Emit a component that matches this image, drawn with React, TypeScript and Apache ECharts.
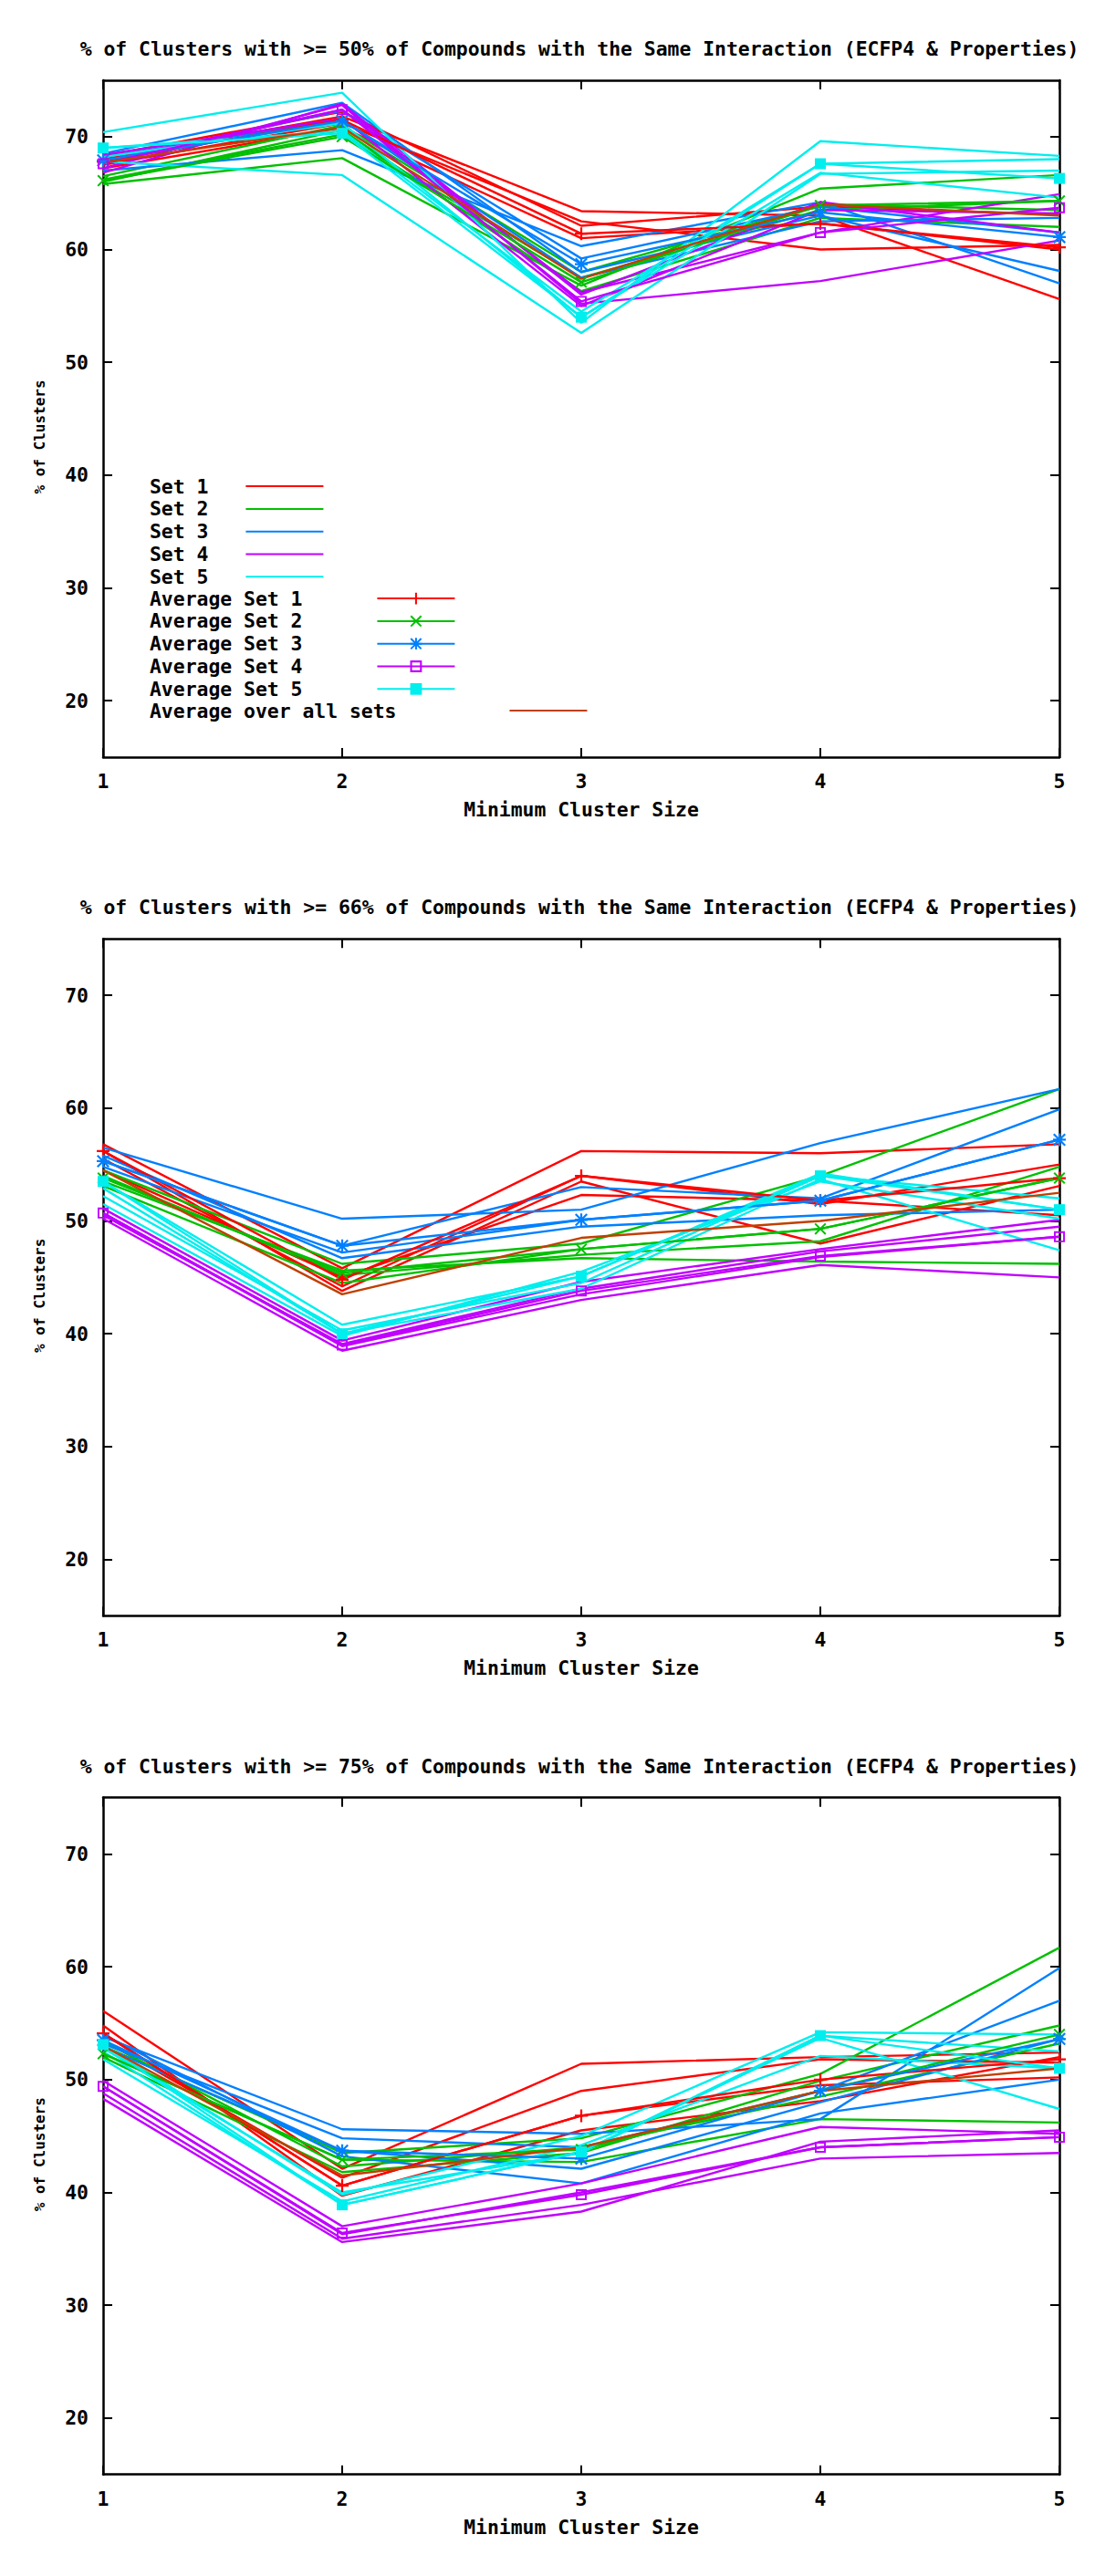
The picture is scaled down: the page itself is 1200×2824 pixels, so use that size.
import React, { useEffect, useRef } from "react";
import * as echarts from "echarts";

// ---------- data ----------
const xValues = [1, 2, 3, 4, 5];
const xTickLabels = ["1", "2", "3", "4", "5"];
const yTickValues = [20, 30, 40, 50, 60, 70];

const panelTitles = [
  "% of Clusters with >= 50% of Compounds with the Same Interaction (ECFP4 & Properties)",
  "% of Clusters with >= 66% of Compounds with the Same Interaction (ECFP4 & Properties)",
  "% of Clusters with >= 75% of Compounds with the Same Interaction (ECFP4 & Properties)",
];
const xAxisTitle = "Minimum Cluster Size";
const yAxisTitle = "% of Clusters";

const setNames = ["Set 1", "Set 2", "Set 3", "Set 4", "Set 5"];
const avgNames = ["Average Set 1", "Average Set 2", "Average Set 3", "Average Set 4", "Average Set 5"];
const overallName = "Average over all sets";

// ---- panel 1 : >= 50% ----
const p50Set1 = [
  [68.0, 71.8, 63.4, 63.0, 55.6],
  [67.5, 71.2, 62.5, 60.0, 60.4],
  [68.3, 72.2, 62.1, 63.8, 63.1],
  [67.2, 70.8, 61.0, 62.3, 60.0],
];
const p50Set2 = [
  [65.8, 68.1, 56.8, 65.4, 66.6],
  [66.2, 70.2, 57.5, 63.5, 64.3],
  [66.0, 70.6, 56.3, 62.8, 62.0],
  [66.5, 71.0, 58.0, 64.0, 63.5],
];
const p50Set3 = [
  [67.0, 68.8, 60.3, 64.2, 57.0],
  [68.5, 73.0, 58.0, 63.0, 58.1],
  [67.8, 72.3, 59.2, 63.8, 61.5],
  [68.2, 71.5, 57.5, 62.5, 62.8],
];
const p50Set4 = [
  [67.2, 72.8, 55.2, 57.2, 60.8],
  [67.8, 72.4, 56.2, 61.5, 64.9],
  [68.4, 71.6, 55.0, 63.5, 63.2],
  [66.8, 72.9, 56.0, 64.2, 61.5],
];
const p50Set5 = [
  [70.4, 73.9, 53.5, 69.6, 68.3],
  [67.8, 66.6, 52.6, 66.7, 67.0],
  [69.0, 70.5, 54.5, 67.6, 68.0],
  [68.2, 71.2, 54.0, 66.8, 64.6],
];
const p50Averages = [
  [67.8, 71.5, 61.4, 62.3, 60.2],
  [66.1, 70.0, 57.1, 63.9, 64.3],
  [67.9, 71.4, 58.7, 63.3, 61.1],
  [67.6, 72.4, 55.4, 61.5, 63.7],
  [69.0, 70.3, 54.0, 67.6, 66.3],
];
const p50Overall = [67.7, 70.8, 57.4, 64.0, 63.0];

// ---- panel 2 : >= 66% ----
const p66Set1 = [
  [56.8, 45.8, 56.2, 56.0, 56.8],
  [55.5, 44.2, 54.0, 51.5, 55.0],
  [56.2, 43.8, 53.5, 48.0, 53.1],
  [54.5, 45.0, 52.3, 51.8, 50.5],
];
const p66Set2 = [
  [54.5, 46.2, 48.0, 54.0, 61.7],
  [53.5, 45.6, 46.7, 46.4, 46.2],
  [53.1, 44.5, 47.5, 49.3, 53.8],
  [54.0, 45.2, 47.0, 48.2, 54.8],
];
const p66Set3 = [
  [56.5, 50.2, 51.0, 56.9, 61.7],
  [55.3, 47.8, 53.0, 52.0, 59.9],
  [54.8, 47.2, 50.1, 51.8, 57.2],
  [55.8, 46.7, 49.5, 50.5, 51.0],
];
const p66Set4 = [
  [51.1, 39.4, 44.6, 47.5, 50.1],
  [50.7, 38.9, 43.5, 46.8, 48.6],
  [50.2, 38.5, 43.0, 46.1, 45.0],
  [50.5, 39.1, 44.0, 47.3, 49.5],
];
const p66Set5 = [
  [53.5, 40.8, 45.1, 54.2, 51.0],
  [52.9, 40.0, 44.0, 53.7, 47.4],
  [52.2, 40.3, 44.5, 54.0, 52.0],
  [51.5, 39.8, 45.5, 53.5, 50.2],
];
const p66Averages = [
  [56.2, 44.8, 54.0, 51.8, 53.8],
  [53.8, 45.4, 47.5, 49.3, 53.8],
  [55.3, 47.8, 50.1, 51.8, 57.2],
  [50.7, 39.0, 43.8, 46.9, 48.6],
  [53.5, 40.0, 45.1, 54.0, 51.0],
];
const p66Overall = [54.5, 43.5, 48.5, 50.0, 52.5];

// ---- panel 3 : >= 75% ----
const p75Set1 = [
  [56.1, 42.1, 51.4, 52.0, 52.4],
  [54.1, 40.6, 46.8, 49.5, 50.2],
  [53.5, 41.3, 49.0, 51.8, 51.5],
  [54.8, 39.7, 45.5, 48.1, 52.0],
];
const p75Set2 = [
  [53.0, 43.5, 44.8, 50.5, 61.7],
  [52.3, 42.9, 42.7, 46.5, 46.2],
  [52.0, 41.8, 43.5, 49.9, 54.8],
  [53.4, 42.3, 44.0, 48.5, 53.2],
];
const p75Set3 = [
  [53.8, 45.6, 45.2, 46.5, 59.9],
  [53.2, 44.8, 44.0, 49.0, 57.0],
  [52.9, 43.7, 42.1, 48.0, 53.6],
  [54.0, 43.2, 40.8, 47.0, 50.0],
];
const p75Set4 = [
  [49.9, 37.0, 40.8, 45.8, 45.2],
  [49.4, 36.3, 40.0, 44.0, 44.9],
  [48.8, 35.9, 38.9, 43.0, 43.5],
  [48.3, 35.6, 38.3, 44.5, 45.5],
];
const p75Set5 = [
  [53.1, 39.8, 45.0, 54.2, 54.0],
  [52.5, 38.9, 43.6, 53.7, 47.4],
  [51.8, 39.2, 44.2, 52.1, 51.0],
  [52.8, 40.0, 43.5, 53.9, 52.5],
];
const p75Averages = [
  [54.1, 40.6, 46.8, 50.0, 51.8],
  [52.3, 42.9, 43.8, 49.0, 54.0],
  [53.5, 43.7, 43.0, 49.0, 53.6],
  [49.4, 36.4, 39.8, 44.0, 44.9],
  [53.1, 38.9, 43.6, 53.9, 51.0],
];
const p75Overall = [53.0, 41.5, 44.0, 49.0, 51.0];

const panelRuns = [
  [p50Set1, p50Set2, p50Set3, p50Set4, p50Set5],
  [p66Set1, p66Set2, p66Set3, p66Set4, p66Set5],
  [p75Set1, p75Set2, p75Set3, p75Set4, p75Set5],
];
const panelAverages = [p50Averages, p66Averages, p75Averages];
const panelOverall = [p50Overall, p66Overall, p75Overall];

// ---------- styles ----------
const COLORS = ["#ff0000", "#00c000", "#0080ff", "#c000ff", "#00eeee"];
const OVERALL_COLOR = "#c04000";
const PLUS = "path://M4.2,0H5.8V4.2H10V5.8H5.8V10H4.2V5.8H0V4.2H4.2Z";
const CROSS = "path://M0,1.1L1.1,0L5,3.9L8.9,0L10,1.1L6.1,5L10,8.9L8.9,10L5,6.1L1.1,10L0,8.9L3.9,5Z";
const STAR = "path://M4.2,0H5.8V10H4.2Z M0,4.2H10V5.8H0Z M0,1.1L1.1,0L10,8.9L8.9,10Z M8.9,0L10,1.1L1.1,10L0,8.9Z";
const OPEN_SQ = "path://M0,0H10V10H0Z M1.6,1.6V8.4H8.4V1.6Z";
const LINE_ICON = "path://M0,0L0,0M0,6.8H100V9.2H0ZM100,16L100,16";
const SYMBOLS = [PLUS, CROSS, STAR, OPEN_SQ, "rect"];
const SYMBOL_SIZES = [14, 13, 14, 12, 12];
const LINE_W = 2.4;

const FONT = "'DejaVu Sans Mono', monospace";
const PANEL_H = 2824 / 3;
const GRID_TOP = 88;
const GRID_H = 742;
const GRID_LEFT = 113;
const GRID_RIGHT = 39;

function buildOption() {
  const grid: any[] = [];
  const xAxis: any[] = [];
  const yAxis: any[] = [];
  const series: any[] = [];
  const title: any[] = [];

  const lineAxis = { show: true, onZero: false, lineStyle: { color: "#000", width: 2.5 } };
  const tick = { show: true, inside: true, length: 10, lineStyle: { color: "#000", width: 2 } };
  const labelText = { color: "#000", fontFamily: FONT, fontWeight: "bold", fontSize: 21.4 };

  for (let p = 0; p < 3; p++) {
    const off = p * PANEL_H;
    grid.push({ left: GRID_LEFT, right: GRID_RIGHT, top: GRID_TOP + off, height: GRID_H, containLabel: false });
    title.push({
      text: panelTitles[p],
      left: 635,
      top: 43 + off,
      textAlign: "center",
      padding: 0,
      textStyle: { ...labelText },
    });
    xAxis.push({
      type: "value", gridIndex: p, min: 1, max: 5, interval: 1, position: "bottom",
      axisLine: lineAxis, axisTick: tick, splitLine: { show: false },
      axisLabel: { ...labelText, margin: 16, formatter: (v: number) => xTickLabels[v - 1] },
      name: xAxisTitle, nameLocation: "middle", nameGap: 47,
      nameTextStyle: { ...labelText },
    });
    xAxis.push({
      type: "value", gridIndex: p, min: 1, max: 5, interval: 1, position: "top",
      axisLine: lineAxis, axisTick: tick, splitLine: { show: false }, axisLabel: { show: false },
    });
    yAxis.push({
      type: "value", gridIndex: p, min: 15, max: 75, position: "left",
      axisLine: lineAxis, axisTick: { ...tick, customValues: yTickValues }, splitLine: { show: false },
      axisLabel: { ...labelText, margin: 16, customValues: yTickValues },
      name: yAxisTitle, nameLocation: "middle", nameGap: 62, nameRotate: 90,
      nameTextStyle: { color: "#000", fontFamily: FONT, fontWeight: "bold", fontSize: 16, padding: [0, 40, 0, 0] },
    });
    yAxis.push({
      type: "value", gridIndex: p, min: 15, max: 75, position: "right",
      axisLine: lineAxis, axisTick: { ...tick, customValues: yTickValues }, splitLine: { show: false },
      axisLabel: { show: false },
    });

    const xi = p * 2;
    const yi = p * 2;
    panelRuns[p].forEach((runs, s) => {
      runs.forEach((run) => {
        series.push({
          type: "line", name: setNames[s], xAxisIndex: xi, yAxisIndex: yi,
          data: xValues.map((x, i) => [x, run[i]]),
          symbol: "none", silent: true,
          lineStyle: { color: COLORS[s], width: LINE_W }, itemStyle: { color: COLORS[s] },
          emphasis: { disabled: true },
        });
      });
    });
    panelAverages[p].forEach((avg, s) => {
      series.push({
        type: "line", name: avgNames[s], xAxisIndex: xi, yAxisIndex: yi,
        data: xValues.map((x, i) => [x, avg[i]]),
        symbol: SYMBOLS[s], symbolSize: SYMBOL_SIZES[s], showSymbol: true, silent: true,
        lineStyle: { color: COLORS[s], width: LINE_W }, itemStyle: { color: COLORS[s] },
        emphasis: { disabled: true },
      });
    });
    series.push({
      type: "line", name: overallName, xAxisIndex: xi, yAxisIndex: yi,
      data: xValues.map((x, i) => [x, panelOverall[p][i]]),
      symbol: "none", silent: true,
      lineStyle: { color: OVERALL_COLOR, width: LINE_W }, itemStyle: { color: OVERALL_COLOR },
      emphasis: { disabled: true },
    });
  }

  const legendBase = {
    orient: "vertical", align: "right", left: 164, padding: 0,
    itemWidth: 85, itemHeight: 16, itemGap: 3.8, selectedMode: false,
  };
  const legendText = (padRight: number) => ({
    color: "#000", fontFamily: FONT, fontWeight: "bold", fontSize: 21.4,
    padding: [0, padRight, 0, 0],
  });
  const legend = [
    { ...legendBase, top: 522.6, data: setNames.map((n) => ({ name: n, icon: LINE_ICON })), textStyle: legendText(36) },
    { ...legendBase, top: 645.6, data: avgNames, textStyle: legendText(77) },
    { ...legendBase, top: 768.6, data: [{ name: overallName, icon: LINE_ICON }], textStyle: legendText(119) },
  ];

  return {
    animation: false,
    backgroundColor: "#fff",
    title, grid, xAxis, yAxis, series, legend,
  };
}

export default function App() {
  const ref = useRef<HTMLDivElement>(null);
  useEffect(() => {
    if (!ref.current) return;
    const chart = echarts.init(ref.current, null, { renderer: "svg" });
    chart.setOption(buildOption() as any);
    return () => chart.dispose();
  }, []);
  return (
    <div
      ref={ref}
      style={{ position: "absolute", left: 0, top: 0, width: 1200, height: 2824, background: "#fff" }}
    />
  );
}
